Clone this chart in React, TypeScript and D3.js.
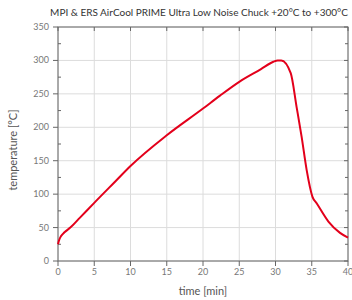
import React from "react";
import * as d3 from "d3";

const title = "MPI & ERS AirCool PRIME Ultra Low Noise Chuck +20°C to +300°C";
const xLabel = "time [min]";
const yLabel = "temperature [°C]";
const timeMin = [0, 0.15, 0.4, 0.9, 1.7, 3, 5, 8, 10, 15, 20, 22.3, 25, 28, 29.7, 30.3, 30.8, 32.1, 32.9, 33.6, 34.3, 35.1, 35.7, 37.3, 38.9, 40];
const tempC = [25, 31, 37, 43, 50, 64.5, 87, 120, 142, 188, 228, 247, 268, 287, 298, 300, 300, 281, 231, 186, 136, 96, 86, 59, 42, 35];
const xTicks = [0, 5, 10, 15, 20, 25, 30, 35, 40];
const yTicks = [0, 50, 100, 150, 200, 250, 300, 350];
const yMinor = [25, 75, 125, 175, 225, 275, 325];

const W = 352, H = 300;
const M = { left: 58, right: 348, top: 27, bottom: 261 };
const axisColor = "#666";
const gridColor = "#dcdcdc";
const textColor = "#777";
const font = "Lato, 'Noto Sans', sans-serif";

export default function App() {
  const x = d3.scaleLinear().domain([0, 40]).range([M.left, M.right]);
  const y = d3.scaleLinear().domain([0, 350]).range([M.bottom, M.top]);
  const pts = timeMin.map((t, i) => [t, tempC[i]] as [number, number]);
  const line = d3.line<[number, number]>().x(d => x(d[0])).y(d => y(d[1])).curve(d3.curveMonotoneX);

  return (
    <svg width={W} height={H} style={{ position: "absolute", left: 0, top: 0 }} fontFamily={font}>
      <rect width={W} height={H} fill="#fff" />
      {xTicks.map(t => (
        <line key={"gx" + t} x1={x(t)} x2={x(t)} y1={M.top} y2={M.bottom} stroke={gridColor} strokeWidth={1} />
      ))}
      {yTicks.map(t => (
        <line key={"gy" + t} x1={M.left} x2={M.right} y1={y(t)} y2={y(t)} stroke={gridColor} strokeWidth={1} />
      ))}
      <rect x={M.left} y={M.top} width={M.right - M.left} height={M.bottom - M.top} fill="none" stroke={axisColor} strokeWidth={1} />
      {xTicks.map(t => (
        <g key={"tx" + t}>
          <line x1={x(t)} x2={x(t)} y1={M.bottom} y2={M.bottom + 5} stroke={axisColor} />
          <line x1={x(t)} x2={x(t)} y1={M.top} y2={M.top + 4} stroke={axisColor} />
          <text x={x(t)} y={M.bottom + 14} textAnchor="middle" fontSize={9} fill={textColor}>{t}</text>
        </g>
      ))}
      {yTicks.map(t => (
        <g key={"ty" + t}>
          <line x1={M.left - 5} x2={M.left} y1={y(t)} y2={y(t)} stroke={axisColor} />
          <line x1={M.right - 4} x2={M.right} y1={y(t)} y2={y(t)} stroke={axisColor} />
          <text x={M.left - 9} y={y(t) + 3} textAnchor="end" fontSize={9} fill={textColor}>{t}</text>
        </g>
      ))}
      {yMinor.map(t => (
        <g key={"my" + t}>
          <line x1={M.left} x2={M.left + 3} y1={y(t)} y2={y(t)} stroke={axisColor} />
          <line x1={M.right - 3} x2={M.right} y1={y(t)} y2={y(t)} stroke={axisColor} />
        </g>
      ))}
      <path d={line(pts) || ""} fill="none" stroke="#e3001b" strokeWidth={2} strokeLinejoin="round" />
      <text x={(M.left + M.right) / 2 - 4} y={16} textAnchor="middle" fontSize={10} fill="#333">{title}</text>
      <text x={(M.left + M.right) / 2} y={295} textAnchor="middle" fontSize={11} fill="#555">{xLabel}</text>
      <text transform={`translate(17,150) rotate(-90)`} textAnchor="middle" fontSize={11} fill="#555">{yLabel}</text>
    </svg>
  );
}
